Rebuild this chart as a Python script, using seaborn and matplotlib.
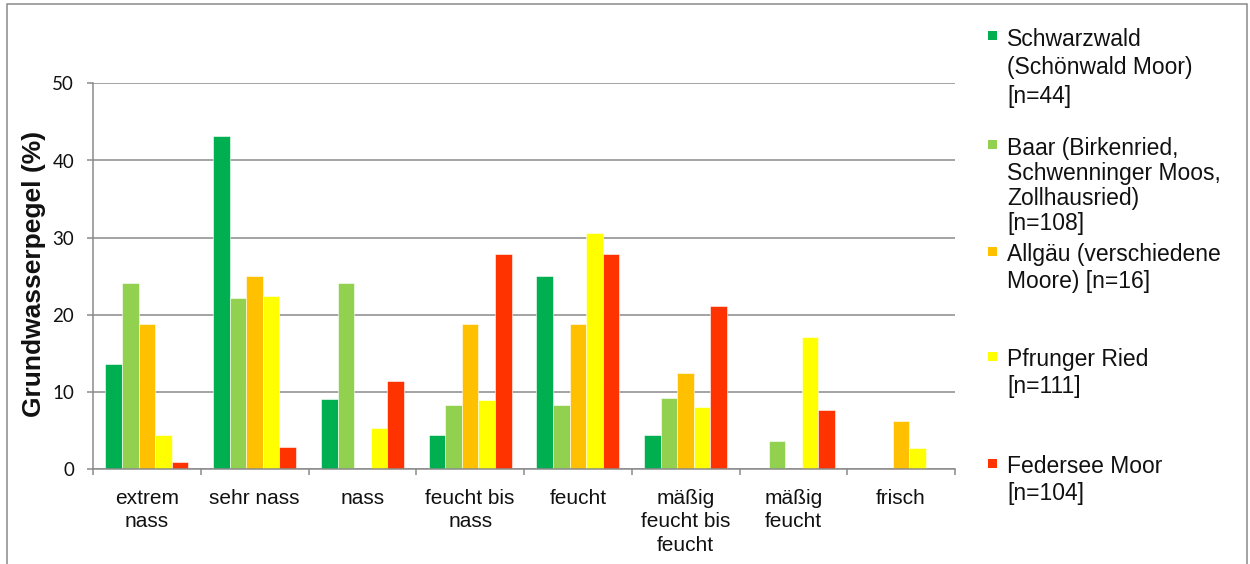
import matplotlib
matplotlib.use("Agg")
import matplotlib.pyplot as plt
from matplotlib.patches import Rectangle
from matplotlib.ticker import FixedLocator, MultipleLocator
import pandas as pd
import seaborn as sns

# Wasserstufen (Kategorien der x-Achse)
categories = ["extrem\nnass", "sehr nass", "nass", "feucht bis\nnass", "feucht",
              "mäßig\nfeucht bis\nfeucht", "mäßig\nfeucht", "frisch"]

# Anteile je Gebiet in Prozent
schwarzwald = [13.6, 43.2, 9.1, 4.5, 25.0, 4.5, 0.0, 0.0]
baar = [24.1, 22.2, 24.1, 8.3, 8.3, 9.3, 3.7, 0.0]
allgaeu = [18.8, 25.0, 0.0, 18.8, 18.8, 12.5, 0.0, 6.3]
pfrunger = [4.5, 22.5, 5.4, 9.0, 30.6, 8.1, 17.1, 2.7]
federsee = [1.0, 2.9, 11.5, 27.9, 27.9, 21.2, 7.7, 0.0]

series_labels = [
    "Schwarzwald\n(Schönwald Moor)\n[n=44]",
    "Baar (Birkenried,\nSchwenninger Moos,\nZollhausried)\n[n=108]",
    "Allgäu (verschiedene\nMoore) [n=16]",
    "Pfrunger Ried\n[n=111]",
    "Federsee Moor\n[n=104]",
]
series_values = [schwarzwald, baar, allgaeu, pfrunger, federsee]
colors = ["#00B050", "#92D050", "#FFC000", "#FFFF00", "#FF3300"]

y_label = "Grundwasserpegel (%)"

rows = []
for lab, vals in zip(series_labels, series_values):
    for cat, v in zip(categories, vals):
        rows.append({"Kategorie": cat, "Gebiet": lab, "Wert": v})
df = pd.DataFrame(rows)

sns.set_theme(style="white")
plt.rcParams["font.family"] = ["Liberation Sans", "DejaVu Sans"]

W, H = 1250, 564
fig = plt.figure(figsize=(W / 100, H / 100), dpi=100)
ax = fig.add_axes([93 / W, 1 - 469.3 / H, (955 - 93) / W, (469.3 - 83.3) / H])

grid_c = "#8a8a8a"
ax.set_axisbelow(True)
ax.yaxis.grid(True, color=grid_c, linewidth=1.1)
ax.xaxis.grid(False)

sns.barplot(data=df, x="Kategorie", y="Wert", hue="Gebiet",
            order=categories, hue_order=series_labels, palette=colors,
            width=5 / 6.5, gap=0, errorbar=None, legend=False,
            edgecolor="white", linewidth=0.4, saturation=1, ax=ax)

ax.set_ylim(0, 50)
ax.set_xlim(-0.5, len(categories) - 0.5)
ax.yaxis.set_major_locator(MultipleLocator(10))

for s in ["top", "right"]:
    ax.spines[s].set_visible(False)
for s in ["left", "bottom"]:
    ax.spines[s].set_color(grid_c)
    ax.spines[s].set_linewidth(1.1)

ax.tick_params(axis="y", which="major", direction="out", length=4, width=1.1,
               color=grid_c, pad=9.5, left=True)
for t in ax.get_yticklabels():
    t.set_fontfamily(["Lato", "DejaVu Sans"])
    t.set_fontsize(13.5)
    t.set_color("#111111")

ax.xaxis.set_minor_locator(FixedLocator([i - 0.5 for i in range(len(categories) + 1)]))
ax.tick_params(axis="x", which="major", length=0, pad=14, labelsize=15,
               labelcolor="#111111")
ax.tick_params(axis="x", which="minor", direction="out", length=4.5, width=1.1,
               color=grid_c, bottom=True)
for t in ax.get_xticklabels():
    t.set_linespacing(1.3)

ax.set_xlabel("")
ax.set_ylabel(y_label, fontsize=19, fontweight="bold", color="#111111")
ax.yaxis.set_label_coords(-0.0545, 0.505)

# Legende rechts neben dem Diagramm
text_tops = [27.5, 136.7, 243.3, 348.3, 455]
line_sp = [1.31, 1.11, 1.225, 1.225, 1.225]
for lab, col, top, ls in zip(series_labels, colors, text_tops, line_sp):
    cy = top + 8
    fig.add_artist(Rectangle((988 / W, 1 - (cy + 4.5) / H), 9 / W, 9 / H,
                             transform=fig.transFigure, facecolor=col,
                             edgecolor="none"))
    fig.text(1007 / W, 1 - top / H, lab, ha="left", va="top", fontsize=16.5,
             linespacing=ls, color="#111111")

# Rahmen um das Diagramm
fig.add_artist(Rectangle((7 / W, -0.05), (1247 - 7) / W, 1.05 - 4 / H,
                         transform=fig.transFigure, facecolor="none",
                         edgecolor=grid_c, linewidth=1.1))

fig.savefig("out.png", dpi=100)
